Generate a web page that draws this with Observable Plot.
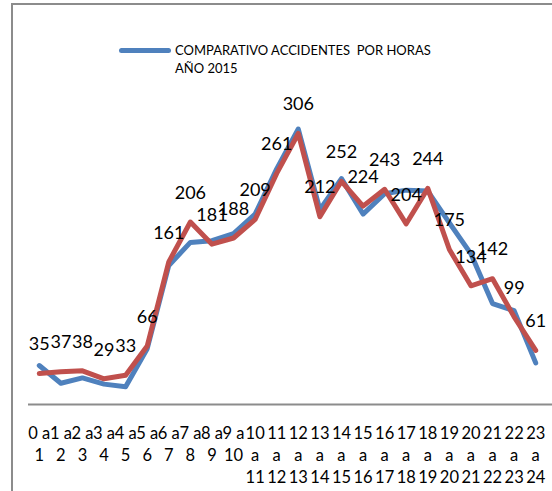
<!DOCTYPE html>
<html><head><meta charset="utf-8">
<script src="https://cdn.jsdelivr.net/npm/d3@7"></script>
<script src="https://cdn.jsdelivr.net/npm/@observablehq/plot@0.6"></script>
<style>
html,body{margin:0;padding:0;background:#fff;overflow:hidden}
#wrap{position:relative;width:552px;height:491px;overflow:hidden;background:#fff}
#frame{position:absolute;left:11px;top:3px;width:700px;height:700px;border-left:2px solid #8c8c8c;border-top:2px solid #8c8c8c}
#chart{position:absolute;left:0;top:0}
#legend{position:absolute;left:119px;top:41px;font-family:Lato,"Liberation Sans",sans-serif;font-size:13px;line-height:18px;color:#000}
#legend .sw{position:absolute;left:0;top:7px;width:52px;height:5px;border-radius:3px;background:#4F81BD}
#legend .tx{position:absolute;left:56px;top:0;white-space:pre}
</style></head>
<body><div id="wrap"><div id="frame"></div><div id="chart"></div>
<div id="legend"><div class="sw"></div><div class="tx">COMPARATIVO ACCIDENTES  POR HORAS
AÑO 2015</div></div></div>
<script>
const categories = ["0 a 1","1 a 2","2 a 3","3 a 4","4 a 5","5 a 6","6 a 7","7 a 8","8 a 9","9 a 10","10 a 11","11 a 12","12 a 13","13 a 14","14 a 15","15 a 16","16 a 17","17 a 18","18 a 19","19 a 20","20 a 21","21 a 22","22 a 23","23 a 24"];
const tickLabels = ["0 a\n1","1 a\n2","2 a\n3","3 a\n4","4 a\n5","5 a\n6","6 a\n7","7 a\n8","8 a\n9","9 a\n10","10\na\n11","11\na\n12","12\na\n13","13\na\n14","14\na\n15","15\na\n16","16\na\n17","17\na\n18","18\na\n19","19\na\n20","20\na\n21","21\na\n22","22\na\n23","23\na\n24"];
const blueValues = [44,24,30,23,20,63,157,183,185,193,215,266,311,220,255,215,238,242,241,205,170,114,106,47];
const redValues = [35,37,38,29,33,66,161,206,181,188,209,261,306,212,252,224,243,204,244,175,134,142,99,61];

const blueData = categories.map((c,i)=>({cat:c, v:blueValues[i]}));
const redData = categories.map((c,i)=>({cat:c, v:redValues[i]}));

const chart = Plot.plot({
  width:552, height:491,
  marginLeft:28, marginRight:0, marginTop:94, marginBottom:87,
  style:{fontFamily:"Lato, 'Liberation Sans', sans-serif", background:"transparent"},
  x:{type:"band", domain:categories, range:[28,546], padding:0, round:false},
  y:{domain:[0,350], range:[404,94], axis:null},
  marks:[
    Plot.ruleY([0],{stroke:"#8c8c8c", strokeWidth:2}),
    Plot.axisX({tickSize:0, tickPadding:19, label:null, fontSize:16.5, lineHeight:1.33, fill:"#000",
      tickFormat:d=>tickLabels[categories.indexOf(d)]}),
    Plot.lineY(blueData,{x:"cat", y:"v", stroke:"#4F81BD", strokeWidth:5, strokeLinejoin:"round", strokeLinecap:"round"}),
    Plot.lineY(redData,{x:"cat", y:"v", stroke:"#C0504D", strokeWidth:5, strokeLinejoin:"round", strokeLinecap:"round"}),
    Plot.text(redData,{x:"cat", y:"v", text:d=>String(d.v), dy:-29, fontSize:18, fill:"#000"})
  ]
});
document.getElementById("chart").appendChild(chart);
</script>
</body></html>
